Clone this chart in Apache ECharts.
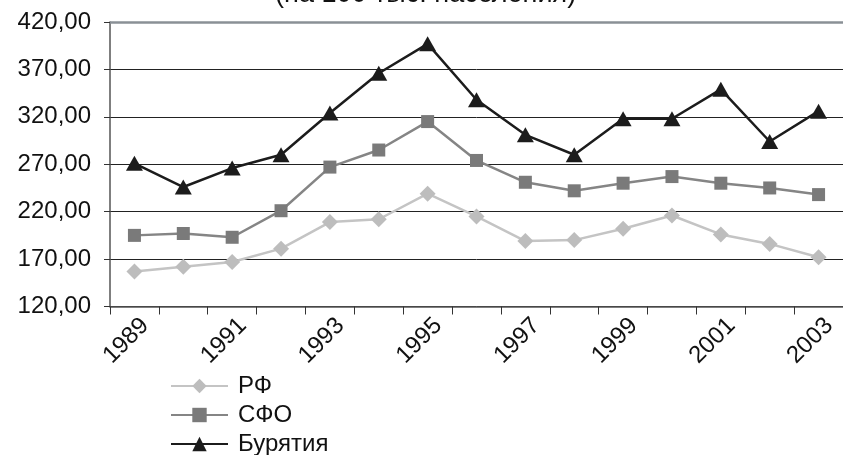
<!DOCTYPE html>
<html>
<head>
<meta charset="utf-8">
<script src="https://cdn.jsdelivr.net/npm/echarts@6/dist/echarts.min.js"></script>
<style>
  html, body { margin: 0; padding: 0; background: #fff; }
  #chart { width: 843px; height: 455px; }
</style>
</head>
<body>
<div id="chart"></div>
<script>
// годы
var years = ['1989', '1990', '1991', '1992', '1993', '1994', '1995', '1996',
  '1997', '1998', '1999', '2000', '2001', '2002', '2003']
// значения по рядам (на 100 тыс. населения)
var rf = [157, 162, 167, 181, 209, 212, 239, 215, 189, 190, 202, 216, 196, 186, 172]
var sfo = [195, 197, 193, 221, 267, 285, 315, 274, 251, 242, 250, 257, 250, 245, 238]
var buryatia = [271, 246, 266, 280, 324, 366, 397, 338, 301, 280, 318, 318, 349, 294, 326]
var names = ['РФ', 'СФО', 'Бурятия']

var font = '"Liberation Sans", Arial, sans-serif'

var chart = echarts.init(document.getElementById('chart'))

// по одной легенде на строку, чтобы не переносилось в две колонки
function legendRow(name, top) {
  return {
    orient: 'vertical',
    left: 165,
    top: top,
    itemWidth: 57,
    itemHeight: 18,
    itemGap: 0,
    textStyle: { fontSize: 24, color: '#111', fontFamily: font, padding: [0, 0, 0, 5] },
    data: [name]
  }
}

var option = {
  backgroundColor: '#fff',
  animation: false,
  textStyle: { fontFamily: font },
  graphic: [{
    type: 'text',
    left: 275,
    top: -19,
    style: {
      text: '(на 100 тыс. населения)',
      font: '27px ' + font,
      fill: '#111'
    }
  }],
  grid: {
    left: 110,
    right: -2,
    top: 22,
    bottom: 148.5,
    containLabel: false
  },
  legend: [
    legendRow(names[0], 369),
    legendRow(names[1], 398),
    legendRow(names[2], 427)
  ],
  xAxis: {
    type: 'category',
    data: years,
    boundaryGap: true,
    axisLine: { lineStyle: { color: '#555', width: 1.5 } },
    axisTick: { show: true, length: 8, interval: 0, lineStyle: { color: '#333' } },
    axisLabel: {
      interval: 1,
      rotate: 45,
      fontSize: 24,
      color: '#111',
      margin: 26,
      padding: [0, -15, 0, 0]
    }
  },
  yAxis: {
    type: 'value',
    min: 120,
    max: 420,
    interval: 50,
    axisLine: { show: true, lineStyle: { color: '#555', width: 1.5 } },
    axisTick: { show: true, length: 6, lineStyle: { color: '#333' } },
    splitLine: { lineStyle: { color: '#222', width: 1 } },
    axisLabel: {
      fontSize: 24,
      color: '#111',
      margin: 19,
      formatter: function (v) {
        return v.toFixed(2).replace('.', ',')
      }
    }
  },
  series: [
    {
      name: names[0],
      type: 'line',
      data: rf,
      symbol: 'diamond',
      symbolSize: [16, 16],
      lineStyle: { color: '#c4c4c4', width: 2.5 },
      itemStyle: { color: '#bdbdbd' },
      markLine: {
        silent: true,
        symbol: 'none',
        label: { show: false },
        lineStyle: { color: '#8a9096', width: 2.5, type: 'solid' },
        data: [{ yAxis: 420 }]
      }
    },
    {
      name: names[1],
      type: 'line',
      data: sfo,
      symbol: 'rect',
      symbolSize: 13,
      lineStyle: { color: '#858585', width: 2.5 },
      itemStyle: { color: '#7a7a7a' }
    },
    {
      name: names[2],
      type: 'line',
      data: buryatia,
      symbol: 'triangle',
      symbolSize: [17, 15],
      lineStyle: { color: '#1c1c1c', width: 2.5 },
      itemStyle: { color: '#1c1c1c' }
    }
  ]
}

chart.setOption(option)
</script>
</body>
</html>
